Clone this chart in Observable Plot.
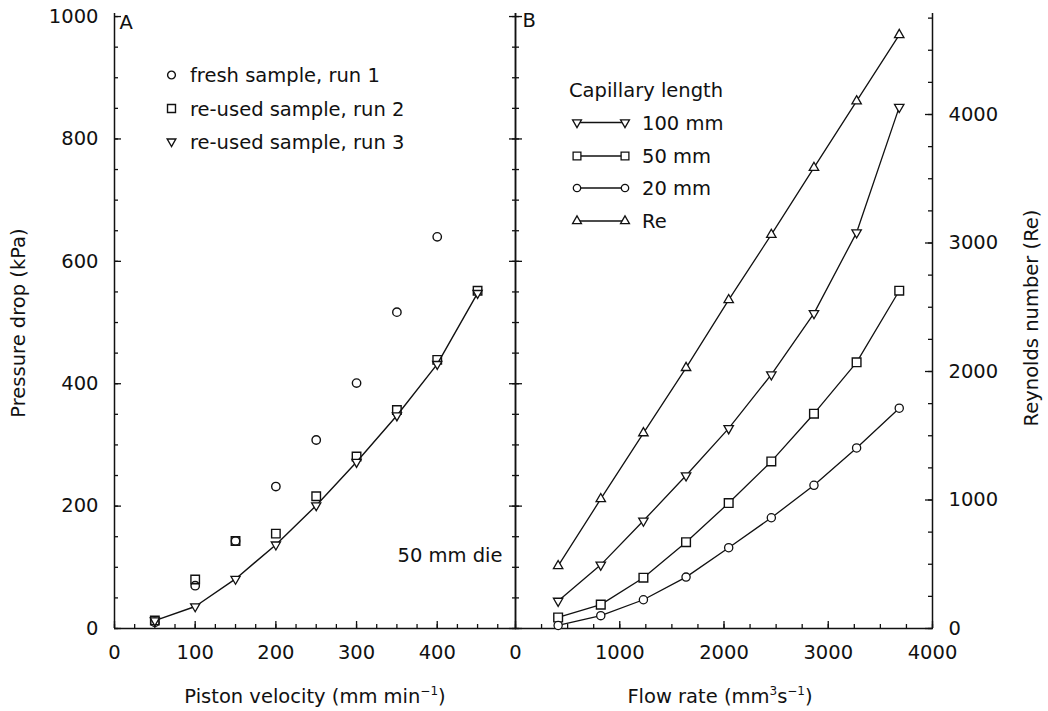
<!DOCTYPE html>
<html><head><meta charset="utf-8">
<script src="https://cdn.jsdelivr.net/npm/d3@7"></script>
<script src="https://cdn.jsdelivr.net/npm/@observablehq/plot@0.6"></script>
<style>
body{margin:0;background:#fff;}
#fig{position:relative;width:1048px;height:711px;background:#fff;overflow:hidden;font-family:"DejaVu Sans",sans-serif;color:#111;}
#fig svg{position:absolute;top:0;}
.t{position:absolute;font-size:19.5px;white-space:nowrap;line-height:1;}
.t sup{font-size:12px;vertical-align:0;position:relative;top:-8px;}
.rot{transform:translate(-50%,-50%) rotate(-90deg);}
</style></head><body><div id="fig"></div>
<script>
// ---------- Panel A: pressure drop vs piston velocity (50 mm die)
const velocity = [50, 100, 150, 200, 250, 300, 350, 400, 450];
const run1 = [10, 70, 143, 232, 308, 401, 517, 640];          // fresh sample, run 1
const run2 = [13, 80, 143, 155, 216, 281, 357, 439, 552];     // re-used sample, run 2
const run3 = [13, 36, 81, 137, 201, 272, 348, 432, 548];      // re-used sample, run 3
// ---------- Panel B: pressure drop / Re vs flow rate
const flowRate = [409, 818, 1227, 1636, 2045, 2454, 2863, 3272, 3681];
const cap100 = [45, 104, 176, 250, 327, 415, 515, 647, 852];
const cap50 = [18, 39, 83, 141, 205, 273, 351, 435, 552];
const cap20 = [5, 21, 47, 84, 132, 181, 234, 295, 360];
const reynolds = [487, 1008, 1521, 2029, 2557, 3065, 3586, 4104, 4620];
// ---------- ticks and labels
const kpaTicks = [0, 200, 400, 600, 800, 1000];
const velocityTicks = [0, 100, 200, 300, 400];
const flowTicks = [0, 1000, 2000, 3000, 4000];
const reTicks = [0, 1000, 2000, 3000, 4000];
const legendA = ["fresh sample, run 1", "re-used sample, run 2", "re-used sample, run 3"];
const legendBTitle = "Capillary length";
const legendB = ["100 mm", "50 mm", "20 mm", "Re"];

const ink = "#111";
const font = "DejaVu Sans, sans-serif";
const fs = 19.5;
const table = (xs, ys) => ys.map((y, i) => ({x: xs[i], y}));

const style = {background: "transparent", fontFamily: font, fontSize: fs + "px", color: ink, overflow: "visible"};
const tk = {stroke: ink, strokeWidth: 1.3, fill: "none", label: null};
const lab = {tickSize: 0, fill: ink, fontSize: fs, label: null, tickFormat: d => String(d)};

// ---------- Panel A
const plotA = Plot.plot({
  width: 520, height: 711, marginLeft: 114, marginRight: 5, marginTop: 13, marginBottom: 83,
  style,
  x: {domain: [0, 497]},
  y: {domain: [0, 1005]},
  marks: [
    Plot.axisY(d3.range(0, 1001, 50), {anchor: "left", tickSize: 4, dx: 4, ...tk}),
    Plot.axisY(kpaTicks, {anchor: "left", tickSize: 7, dx: 7, ...tk}),
    Plot.axisY(kpaTicks, {anchor: "left", tickPadding: 16, ...lab}),
    Plot.axisY(d3.range(0, 1001, 50), {anchor: "right", tickSize: 4, dx: -4, ...tk}),
    Plot.axisY(kpaTicks, {anchor: "right", tickSize: 7, dx: -7, ...tk}),
    Plot.axisX(d3.range(0, 490, 25), {anchor: "bottom", tickSize: 4, dy: -4, ...tk}),
    Plot.axisX(velocityTicks, {anchor: "bottom", tickSize: 7, dy: -7, ...tk}),
    Plot.axisX(velocityTicks, {anchor: "bottom", tickPadding: 17, ...lab}),
    Plot.ruleX([0], {stroke: ink, strokeWidth: 1.5}),
    Plot.ruleX([497], {stroke: ink, strokeWidth: 1.5}),
    Plot.ruleY([0], {stroke: ink, strokeWidth: 1.5}),
    Plot.line(table(velocity, run3), {x: "x", y: "y", stroke: ink, strokeWidth: 1.4}),
    Plot.dot(table(velocity, run1), {x: "x", y: "y", symbol: "circle", r: 4.2, stroke: ink, strokeWidth: 1.4, fill: "none"}),
    Plot.dot(table(velocity, run2), {x: "x", y: "y", symbol: "square", r: 4.8, stroke: ink, strokeWidth: 1.4, fill: "none"}),
    Plot.dot(table(velocity, run3), {x: "x", y: "y", symbol: "triangle", rotate: 180, r: 3.4, stroke: ink, strokeWidth: 1.3, fill: "white"}),
    Plot.text(["A"], {frameAnchor: "top-left", dx: 5, dy: 2, lineAnchor: "top", textAnchor: "start", fontSize: fs, fill: ink}),
    Plot.text(["50 mm die"], {frameAnchor: "bottom-right", dx: -13, dy: -73, lineAnchor: "middle", textAnchor: "end", fontSize: fs, fill: ink})
  ]
});

// ---------- Panel B (pressure drop)
const plotB = Plot.plot({
  width: 538, height: 711, marginLeft: 5, marginRight: 116, marginTop: 13, marginBottom: 83,
  style,
  x: {domain: [0, 4000]},
  y: {domain: [0, 1005]},
  marks: [
    Plot.axisY(d3.range(0, 1001, 50), {anchor: "left", tickSize: 4, dx: 4, ...tk}),
    Plot.axisY(kpaTicks, {anchor: "left", tickSize: 7, dx: 7, ...tk}),
    Plot.axisX(d3.range(0, 4001, 250), {anchor: "bottom", tickSize: 4, dy: -4, ...tk}),
    Plot.axisX(flowTicks, {anchor: "bottom", tickSize: 7, dy: -7, ...tk}),
    Plot.axisX(flowTicks, {anchor: "bottom", tickPadding: 17, ...lab}),
    Plot.ruleX([0], {stroke: ink, strokeWidth: 1.5}),
    Plot.ruleY([0], {stroke: ink, strokeWidth: 1.5}),
    Plot.line(table(flowRate, cap100), {x: "x", y: "y", stroke: ink, strokeWidth: 1.3}),
    Plot.line(table(flowRate, cap50), {x: "x", y: "y", stroke: ink, strokeWidth: 1.3}),
    Plot.line(table(flowRate, cap20), {x: "x", y: "y", stroke: ink, strokeWidth: 1.3}),
    Plot.dot(table(flowRate, cap100), {x: "x", y: "y", symbol: "triangle", rotate: 180, r: 3.5, stroke: ink, strokeWidth: 1.3, fill: "white"}),
    Plot.dot(table(flowRate, cap50), {x: "x", y: "y", symbol: "square", r: 4.9, stroke: ink, strokeWidth: 1.4, fill: "white"}),
    Plot.dot(table(flowRate, cap20), {x: "x", y: "y", symbol: "circle", r: 4.1, stroke: ink, strokeWidth: 1.3, fill: "white"}),
    Plot.text(["B"], {frameAnchor: "top-left", dx: 7, dy: 0, lineAnchor: "top", textAnchor: "start", fontSize: fs, fill: ink})
  ]
});

// ---------- Panel B (Reynolds number, right axis)
const plotC = Plot.plot({
  width: 538, height: 711, marginLeft: 5, marginRight: 116, marginTop: 13, marginBottom: 83,
  style,
  x: {domain: [0, 4000], axis: null},
  y: {domain: [0, 4786]},
  marks: [
    Plot.axisY(d3.range(0, 4786, 250), {anchor: "right", tickSize: 5, dx: -5, ...tk}),
    Plot.axisY(reTicks, {anchor: "right", tickSize: 8, dx: -8, ...tk}),
    Plot.axisY(reTicks, {anchor: "right", tickPadding: 16, ...lab}),
    Plot.ruleX([4000], {stroke: ink, strokeWidth: 1.5}),
    Plot.line(table(flowRate, reynolds), {x: "x", y: "y", stroke: ink, strokeWidth: 1.3}),
    Plot.dot(table(flowRate, reynolds), {x: "x", y: "y", symbol: "triangle", r: 3.5, stroke: ink, strokeWidth: 1.3, fill: "white"})
  ]
});

const fig = document.getElementById("fig");
plotA.style.left = "0px"; fig.appendChild(plotA);
plotB.style.left = "510px"; fig.appendChild(plotB);
plotC.style.left = "510px"; fig.appendChild(plotC);

// ---------- legends (overlay)
const ov = d3.select(fig).append("svg").attr("width", 1048).attr("height", 711)
  .style("left", "0px").style("font-family", font).style("font-size", fs + "px").attr("fill", ink);
const sym = (type, r) => d3.symbol(type, r * r * Math.PI)();

// legend A
const aSyms = [[d3.symbolCircle, 3.9, 0], [d3.symbolSquare, 4.5, 0], [d3.symbolTriangle, 3.2, 180]];
const aY = [75, 108.5, 141.5];
legendA.forEach((s, i) => {
  const [type, r, rot] = aSyms[i];
  ov.append("path").attr("d", sym(type, r)).attr("transform", `translate(171.5,${aY[i]}) rotate(${rot})`)
    .attr("fill", "none").attr("stroke", ink).attr("stroke-width", 1.4);
  ov.append("text").attr("x", 190).attr("y", aY[i] + 7).text(s);
});

// legend B
ov.append("text").attr("x", 569).attr("y", 96.5).text(legendBTitle);
const bSyms = [[d3.symbolTriangle, 3.3, 180], [d3.symbolSquare, 4.4, 0], [d3.symbolCircle, 3.7, 0], [d3.symbolTriangle, 3.3, 0]];
const bY = [122.5, 156, 188, 221];
legendB.forEach((s, i) => {
  const [type, r, rot] = bSyms[i];
  ov.append("line").attr("x1", 577).attr("x2", 625).attr("y1", bY[i]).attr("y2", bY[i]).attr("stroke", ink).attr("stroke-width", 1.3);
  [577, 625].forEach(cx => ov.append("path").attr("d", sym(type, r)).attr("transform", `translate(${cx},${bY[i]}) rotate(${rot})`)
    .attr("fill", "white").attr("stroke", ink).attr("stroke-width", 1.3));
  ov.append("text").attr("x", 642).attr("y", bY[i] + 7).text(s);
});

// ---------- axis titles
function addText(html, left, top, cls) {
  const d = document.createElement("div");
  d.className = "t " + (cls || "");
  d.innerHTML = html;
  d.style.left = left + "px"; d.style.top = top + "px";
  fig.appendChild(d);
}
addText("Pressure drop (kPa)", 19, 323, "rot");
addText("Reynolds number (Re)", 1032, 318, "rot");
addText("Piston velocity (mm min<sup>−1</sup>)", 315, 697, "rot0");
addText("Flow rate (mm<sup>3</sup>s<sup>−1</sup>)", 720, 697, "rot0");
document.querySelectorAll(".rot0").forEach(d => d.style.transform = "translate(-50%,-50%)");
</script></body></html>
